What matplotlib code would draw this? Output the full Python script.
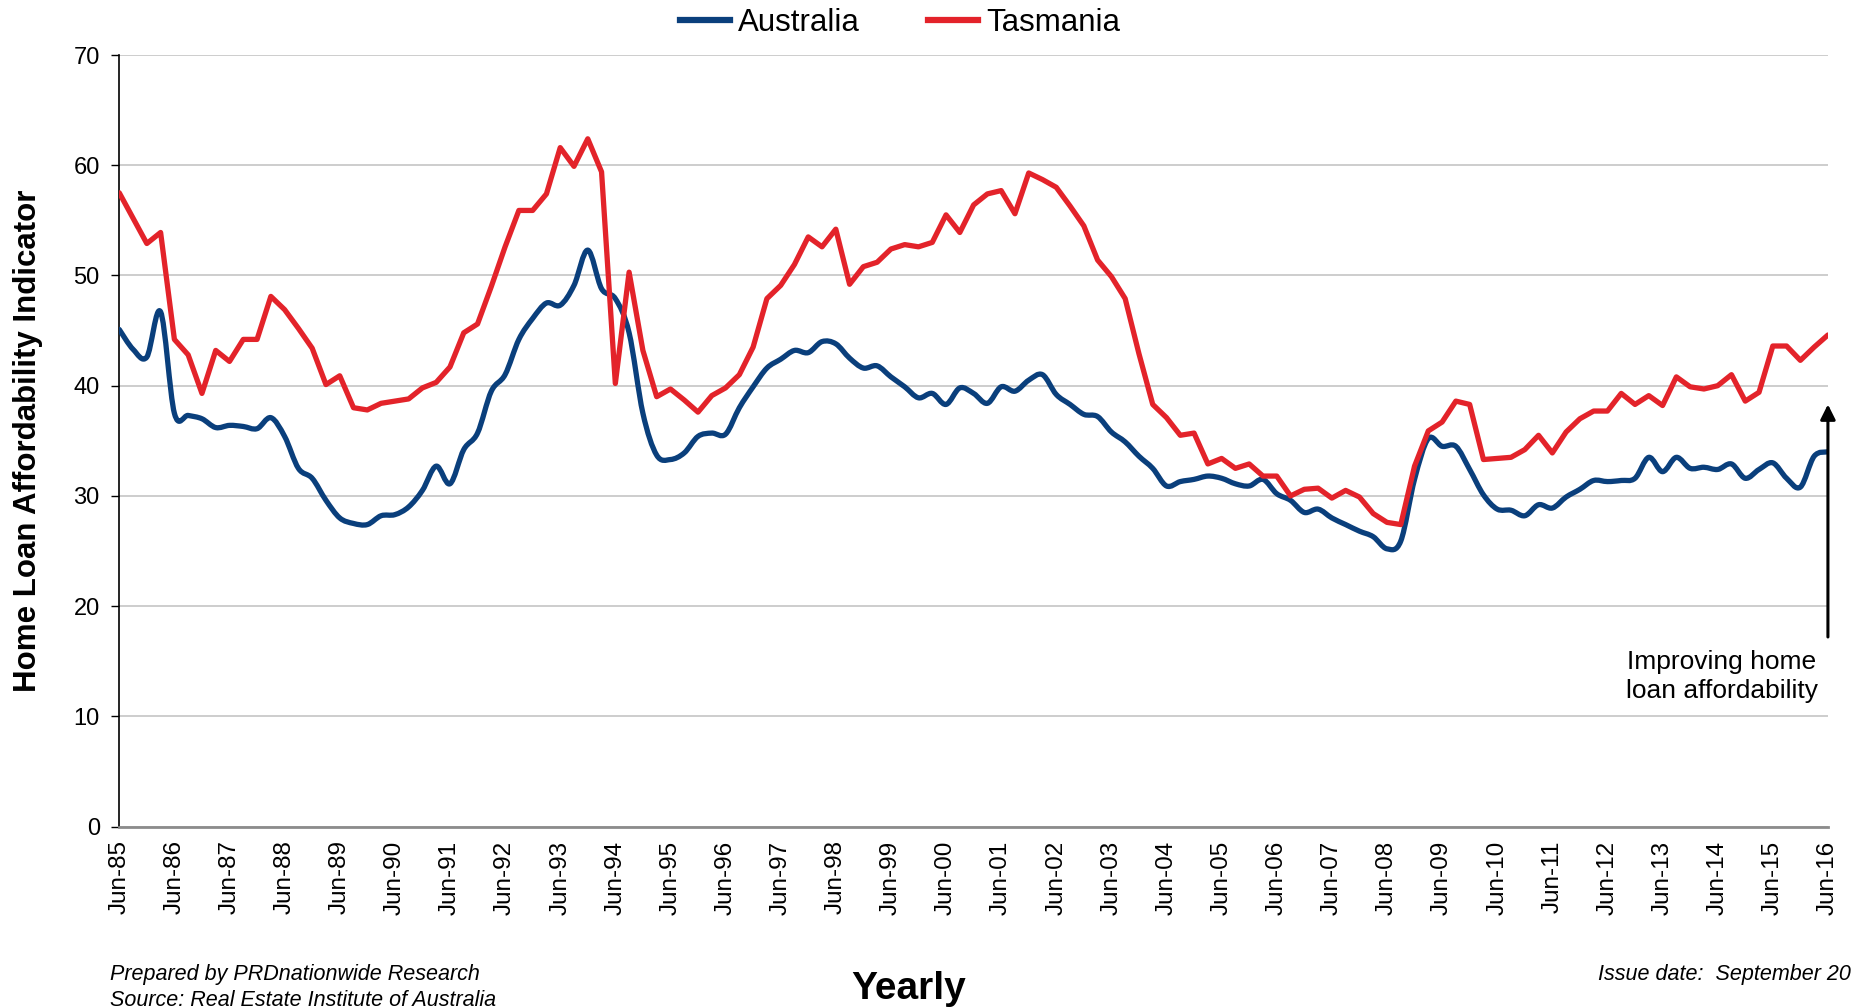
import numpy as np
import matplotlib
matplotlib.use("Agg")
import matplotlib.pyplot as plt
from matplotlib.path import Path
from matplotlib.patches import PathPatch
from matplotlib.lines import Line2D

plt.rcParams['font.family'] = ['Liberation Sans', 'DejaVu Sans']

# ---------------- data (quarterly, Jun-85 .. Jun-16) ----------------
years = list(range(1985, 2017))
tick_labels = [f"Jun-{y % 100:02d}" for y in years]

australia = [45.1, 43.3, 42.6, 46.7, 37.5, 37.3, 37.0, 36.2, 36.4, 36.3,
             36.1, 37.1, 35.4, 32.5, 31.6, 29.6, 28.0, 27.5, 27.4, 28.2,
             28.3, 29.0, 30.5, 32.7, 31.1, 34.2, 35.7, 39.5, 41.0, 44.2,
             46.1, 47.5, 47.3, 49.1, 52.3, 48.8, 47.9, 44.8, 37.5, 33.7,
             33.3, 33.9, 35.4, 35.7, 35.6, 38.0, 39.9, 41.6, 42.4, 43.2,
             43.0, 44.0, 43.8, 42.5, 41.6, 41.8, 40.8, 39.9, 38.9, 39.3,
             38.3, 39.8, 39.3, 38.4, 39.9, 39.5, 40.5, 41.0, 39.2, 38.3,
             37.4, 37.2, 35.8, 34.9, 33.6, 32.5, 30.9, 31.3, 31.5, 31.8,
             31.6, 31.1, 30.9, 31.5, 30.2, 29.6, 28.5, 28.8, 28.0, 27.4,
             26.8, 26.3, 25.2, 25.9, 31.5, 35.2, 34.5, 34.5, 32.4, 30.1,
             28.8, 28.7, 28.2, 29.2, 28.9, 29.9, 30.6, 31.4, 31.3, 31.4,
             31.6, 33.5, 32.2, 33.5, 32.5, 32.6, 32.4, 32.9, 31.6, 32.4,
             33.0, 31.6, 30.8, 33.6, 34.0]

tasmania = [57.5, 55.2, 52.9, 53.9, 44.2, 42.8, 39.3, 43.2, 42.2, 44.2,
            44.2, 48.1, 46.9, 45.2, 43.4, 40.1, 40.9, 38.0, 37.8, 38.4,
            38.6, 38.8, 39.8, 40.3, 41.7, 44.8, 45.6, 49.0, 52.6, 55.9,
            55.9, 57.4, 61.6, 59.9, 62.4, 59.4, 40.2, 50.3, 43.2, 39.0,
            39.7, 38.7, 37.6, 39.1, 39.8, 41.0, 43.5, 47.9, 49.1, 51.0,
            53.5, 52.6, 54.2, 49.2, 50.8, 51.2, 52.4, 52.8, 52.6, 53.0,
            55.5, 53.9, 56.4, 57.4, 57.7, 55.6, 59.3, 58.7, 58.0, 56.3,
            54.5, 51.4, 49.9, 47.9, 42.9, 38.3, 37.1, 35.5, 35.7, 32.9,
            33.4, 32.5, 32.9, 31.8, 31.8, 30.0, 30.6, 30.7, 29.8, 30.5,
            29.9, 28.4, 27.6, 27.4, 32.7, 35.9, 36.7, 38.6, 38.3, 33.3,
            33.4, 33.5, 34.2, 35.5, 33.9, 35.8, 37.0, 37.7, 37.7, 39.3,
            38.3, 39.1, 38.2, 40.8, 39.9, 39.7, 40.0, 41.0, 38.6, 39.4,
            43.6, 43.6, 42.3, 43.5, 44.6]

series_names = ["Australia", "Tasmania"]
BLUE = "#0a3f7c"
RED = "#e3232a"

x = np.arange(len(australia))

fig = plt.figure(figsize=(18.52, 10.08), dpi=100)
ax = fig.add_axes([0.0644, 0.180, 0.9226, 0.7654])


def smooth_path(xs, ys):
    """Excel-style smoothed line as cubic Bezier segments."""
    xs = np.asarray(xs, float)
    ys = np.asarray(ys, float)
    n = len(xs)
    verts = [(xs[0], ys[0])]
    codes = [Path.MOVETO]
    for i in range(n - 1):
        p0 = np.array([xs[max(i - 1, 0)], ys[max(i - 1, 0)]])
        p1 = np.array([xs[i], ys[i]])
        p2 = np.array([xs[i + 1], ys[i + 1]])
        p3 = np.array([xs[min(i + 2, n - 1)], ys[min(i + 2, n - 1)]])
        c1 = p1 + (p2 - p0) / 6.0
        c2 = p2 - (p3 - p1) / 6.0
        verts += [tuple(c1), tuple(c2), tuple(p2)]
        codes += [Path.CURVE4] * 3
    return Path(verts, codes)


# grid
ax.set_ylim(0, 70)
ax.set_xlim(0, len(australia) - 1)
ax.set_yticks(np.arange(0, 71, 10))
ax.yaxis.grid(True, color="#c9c9c9", linewidth=1.3)
ax.set_axisbelow(True)

# Australia (smoothed)
ax.add_patch(PathPatch(smooth_path(x, australia), facecolor="none",
                       edgecolor=BLUE, linewidth=3.8, capstyle="round",
                       joinstyle="round", zorder=3))
# Tasmania (straight segments)
ax.plot(x, tasmania, color=RED, linewidth=3.8, solid_joinstyle="round",
        solid_capstyle="round", zorder=4)

# axes styling
for s in ["top", "right"]:
    ax.spines[s].set_visible(False)
ax.spines["left"].set_color("black")
ax.spines["left"].set_linewidth(1.2)
ax.spines["bottom"].set_color("#8c8c8c")
ax.spines["bottom"].set_linewidth(2.0)

ax.tick_params(axis="y", direction="out", length=6, width=1.0, pad=8,
               labelsize=17, colors="black")
ax.set_xticks(x[::4])
ax.set_xticklabels(tick_labels, rotation=90, fontsize=17.5)
ax.tick_params(axis="x", length=0, pad=10)

ax.set_ylabel("Home Loan Affordability Indicator", fontsize=22.5,
              fontweight="bold")
ax.yaxis.set_label_coords(-0.0447, 0.5)

# legend
handles = [Line2D([], [], color=BLUE, linewidth=4.5),
           Line2D([], [], color=RED, linewidth=4.5)]
fig.legend(handles, series_names, loc="center",
           bbox_to_anchor=(0.486, 0.9775), ncol=2, frameon=False,
           fontsize=22.5, handlelength=1.6, handletextpad=0.25,
           columnspacing=2.2, borderpad=0)

# annotation arrow
ax.annotate("", xy=(124, 38.3), xytext=(124, 17.2),
            arrowprops=dict(arrowstyle="-|>,head_length=0.9,head_width=0.45",
                            color="black", lw=2.2, shrinkA=0, shrinkB=0),
            annotation_clip=False, zorder=5)
ax.text(116.3, 13.6, "Improving home\nloan affordability", fontsize=19,
        ha="center", va="center", linespacing=1.25)

# footer texts
fig.text(110 / 1852, 1 - 974.5 / 1008, "Prepared by PRDnationwide Research",
         fontsize=15.5, style="italic", ha="left", va="center")
fig.text(110 / 1852, 1 - 1000 / 1008, "Source: Real Estate Institute of Australia",
         fontsize=15.5, style="italic", ha="left", va="center")
fig.text(909 / 1852, 1 - 989 / 1008, "Yearly", fontsize=28,
         fontweight="bold", ha="center", va="center")
fig.text(1598 / 1852, 1 - 974.5 / 1008, "Issue date:  September 20",
         fontsize=15.5, style="italic", ha="left", va="center")

fig.savefig("out.png", dpi=100)
